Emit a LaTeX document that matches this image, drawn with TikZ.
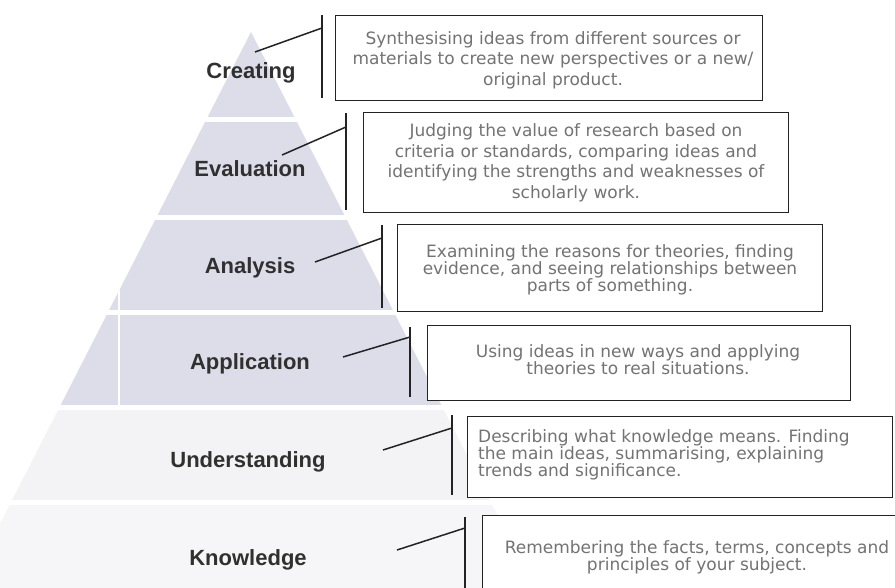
\documentclass[tikz,border=0pt]{standalone}
\usepackage{fontspec}
\setmainfont{DejaVu Sans}
\newfontfamily\labfont{Liberation Sans}
\definecolor{band}{RGB}{221,221,233}
\definecolor{bandlight}{RGB}{243,243,246}
\definecolor{bandlighter}{RGB}{246,246,248}
\definecolor{txt}{RGB}{115,115,115}
\definecolor{lab}{RGB}{48,48,48}
\definecolor{edge}{RGB}{35,35,35}
\tikzset{
  descbox/.style={draw=edge, line width=1.3pt, fill=white, inner sep=0pt, anchor=north west},
  desctext/.style={text=txt, font=\fontsize{17}{20.5}\selectfont, align=center, inner sep=0pt},
  desctight/.style={desctext, font=\fontsize{17}{17.2}\selectfont},
  levellabel/.style={text=lab, font=\labfont\bfseries\fontsize{22}{24}\selectfont, inner sep=0pt, anchor=base},
  bracket/.style={draw=edge, line width=1.6pt},
  link/.style={draw=edge, line width=1.5pt},
}
\begin{document}
\begin{tikzpicture}[x=1pt,y=-1pt]
\useasboundingbox (0,0) rectangle (895,588);
\clip (0,0) rectangle (895,588);
\fill[white] (0,0) rectangle (895,588);
% pyramid
\begin{scope}
  \clip (251,32) -- (551,620) -- (-49,620) -- cycle;
  \fill[band] (-60,32) rectangle (600,117);
  \fill[band] (-60,122) rectangle (600,215);
  \fill[band] (-60,220) rectangle (600,310);
  \fill[band] (-60,315) rectangle (600,405);
  \fill[bandlight] (-60,410) rectangle (600,500);
  \fill[bandlighter] (-60,505) rectangle (600,620);
  \draw[white, line width=1.5pt] (119,280) -- (119,405);
\end{scope}
% level labels
\node[levellabel] (l1) at (251,79) {Creating};
\node[levellabel] (l2) at (250,177) {Evaluation};
\node[levellabel] (l3) at (250,274) {Analysis};
\node[levellabel] (l4) at (250,370) {Application};
\node[levellabel] (l5) at (248,467) {Understanding};
\node[levellabel] (l6) at (248,565) {Knowledge};
% boxes
\node[descbox, minimum width=427pt, minimum height=85pt] (b1) at (335,15) {};
\node[descbox, minimum width=425pt, minimum height=100pt] (b2) at (363,112) {};
\node[descbox, minimum width=425pt, minimum height=87pt] (b3) at (397,224) {};
\node[descbox, minimum width=423pt, minimum height=75pt] (b4) at (427,325) {};
\node[descbox, minimum width=425pt, minimum height=81pt] (b5) at (467,416) {};
\node[descbox, minimum width=440pt, minimum height=100pt] (b6) at (482,515) {};
% texts
\node[desctext] (t1) at (553,60) {Synthesising ideas from different sources or\\materials to create new perspectives or a new/\\original product.};
\node[desctext] (t2) at (576,163) {Judging the value of research based on\\criteria or standards, comparing ideas and\\identifying the strengths and weaknesses of\\scholarly work.};
\node[desctight] (t3) at (610,270) {Examining the reasons for theories, finding\\evidence, and seeing relationships between\\parts of something.};
\node[desctight] (t4) at (638,360) {Using ideas in new ways and applying\\theories to real situations.};
\node[desctight, align=left, anchor=west] (t5) at (478,455) {Describing what knowledge means. Finding\\the main ideas, summarising, explaining\\trends and significance.};
\node[desctight] (t6) at (697,557) {Remembering the facts, terms, concepts and\\principles of your subject.};
% brackets and connectors
\coordinate (k1t) at (322,15);  \coordinate (k1b) at (322,98);
\coordinate (k2t) at (346,113); \coordinate (k2b) at (346,210);
\coordinate (k3t) at (382,225); \coordinate (k3b) at (382,308);
\coordinate (k4t) at (410,327); \coordinate (k4b) at (410,397);
\coordinate (k5t) at (452,415); \coordinate (k5b) at (452,495);
\coordinate (k6t) at (465,517); \coordinate (k6b) at (465,600);
\foreach \i in {1,...,6} {\draw[bracket] (k\i t) -- (k\i b);}
\coordinate (s1) at (255,52);  \coordinate (e1) at (322,28);
\coordinate (s2) at (282,155); \coordinate (e2) at (346,127);
\coordinate (s3) at (315,262); \coordinate (e3) at (382,238);
\coordinate (s4) at (343,357); \coordinate (e4) at (410,337);
\coordinate (s5) at (383,450); \coordinate (e5) at (452,428);
\coordinate (s6) at (397,550); \coordinate (e6) at (465,528);
\foreach \i in {1,...,6} {\draw[link] (s\i) -- (e\i);}
\end{tikzpicture}
\end{document}
